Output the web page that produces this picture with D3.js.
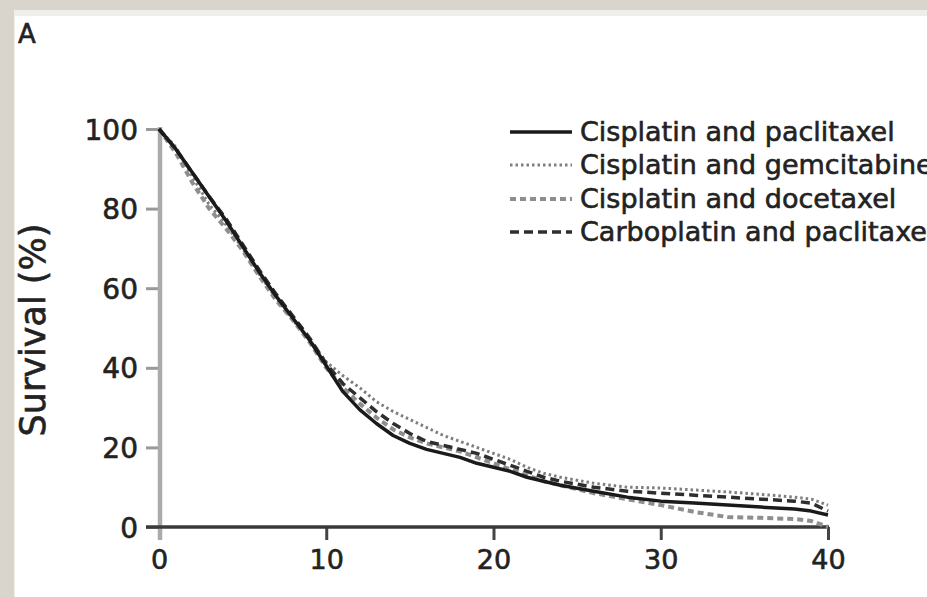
<!DOCTYPE html>
<html>
<head>
<meta charset="utf-8">
<script src="https://cdn.jsdelivr.net/npm/d3@7"></script>
<style>
  html, body { margin: 0; padding: 0; background: #d9d5cd; }
  svg { display: block; }
</style>
</head>
<body>
<svg id="chart" width="927" height="597"></svg>
<script>
// ---- data ----
const months = [0,1,2,3,4,5,6,7,8,9,10,11,12,13,14,15,16,17,18,19,20,21,22,23,24,26,28,30,32,34,36,38,39,40];
const cisplatinPaclitaxel = [100,95,89,83,77,70.5,64,58,52.5,47,40.5,34,29.5,26,23,21,19.5,18.5,17.5,16,15,14,12.5,11.5,10.5,9,7.5,6.5,6,5.5,5,4.5,4,3];
const cisplatinGemcitabine = [100,95.5,88,81,76,70,63.5,57.5,52,47,41.5,38,35,31.5,29,27,25,23,21.5,20,18.5,17,15,13.5,12.5,11,10,9.8,9.3,8.8,8.2,7.5,7,5.5];
const cisplatinDocetaxel = [100,94,86.5,80,75,69.5,63,57,52,46.5,40,35,31,27.5,24.5,22.5,21,20,19,17.5,16,14.5,13,11.5,10.5,8.5,7,5.5,3.8,2.5,2.3,2,1.5,0];
const carboplatinPaclitaxel = [100,95,89,83,77.5,71,64.5,58.5,53,47.5,41,36,32.5,29,26,23.5,21.5,20.5,19.5,18.5,17,15.5,14,12.5,11.5,10,9,8.5,8,7.5,7,6.5,6,4];
const seriesNames = ["Cisplatin and paclitaxel","Cisplatin and gemcitabine","Cisplatin and docetaxel","Carboplatin and paclitaxel"];
const xTicks = [0,10,20,30,40];
const yTicks = [0,20,40,60,80,100];
const yTitle = "Survival (%)";
const panelLabel = "A";

// ---- styles ----
const styles = [
  {stroke:"#1a1a1a", width:3.5, dash:null},
  {stroke:"#7e7e7e", width:3, dash:"2.5,3"},
  {stroke:"#8e8e8e", width:4, dash:"6,4"},
  {stroke:"#2e2e2e", width:3.5, dash:"9,5"}
];
const allSeries = [cisplatinPaclitaxel, cisplatinGemcitabine, cisplatinDocetaxel, carboplatinPaclitaxel];

const svg = d3.select("#chart");
// panel background
svg.append("rect").attr("x",0).attr("y",0).attr("width",927).attr("height",597).attr("fill","#d9d5cd");
svg.append("rect").attr("x",14).attr("y",10).attr("width",913).attr("height",587).attr("fill","#efeeea");
svg.append("rect").attr("x",15).attr("y",16).attr("width",912).attr("height",581).attr("fill","#ffffff");

const x = d3.scaleLinear().domain([0,40]).range([159,828]);
const y = d3.scaleLinear().domain([0,100]).range([527,129]);

const font = "DejaVu Sans, Verdana, sans-serif";
const textStroke = sel => sel.attr("stroke","#222").attr("stroke-width",0.6).attr("paint-order","stroke");

// panel label
svg.append("text").attr("x",18).attr("y",43).attr("font-family",font).attr("font-size",26).attr("fill","#222")
  .call(textStroke).text(panelLabel);

// y axis (light gray)
const yAxisG = svg.append("g").attr("transform","translate(160,0)")
  .call(d3.axisLeft(y).tickValues(yTicks).tickSize(14).tickPadding(8).tickFormat(d3.format("d")));
yAxisG.select(".domain").remove();
yAxisG.selectAll(".tick line").attr("stroke","#999").attr("stroke-width",3);
yAxisG.selectAll(".tick text").attr("font-family",font).attr("font-size",28).attr("fill","#222").attr("dy","0.36em").call(textStroke);
svg.append("line").attr("x1",160).attr("x2",160).attr("y1",127).attr("y2",540).attr("stroke","#ababab").attr("stroke-width",4.5);

// x axis (dark)
const xAxisG = svg.append("g").attr("transform","translate(0,527)")
  .call(d3.axisBottom(x).tickValues(xTicks).tickSize(13).tickPadding(10).tickFormat(d3.format("d")));
xAxisG.select(".domain").remove();
svg.append("line").attr("x1",146).attr("x2",829).attr("y1",527).attr("y2",527).attr("stroke","#3a3a3a").attr("stroke-width",3.5);
xAxisG.selectAll(".tick line").attr("stroke","#444").attr("stroke-width",3);
xAxisG.selectAll(".tick").filter(d => d === 0).select("line").attr("stroke","#aaa");
xAxisG.selectAll(".tick text").attr("font-family",font).attr("font-size",27).attr("fill","#222").call(textStroke);

// y title
svg.append("text").attr("transform","translate(45,330) rotate(-90)").attr("text-anchor","middle")
  .attr("font-family",font).attr("font-size",35).attr("fill","#222").call(textStroke).text(yTitle);

// curves
const line = d3.line().x(d => x(d[0])).y(d => y(d[1])).curve(d3.curveLinear);
const drawOrder = [1,2,3,0];
drawOrder.forEach(i => {
  const pts = months.map((m,k) => [m, allSeries[i][k]]);
  const p = svg.append("path").datum(pts).attr("d",line).attr("fill","none")
    .attr("stroke",styles[i].stroke).attr("stroke-width",styles[i].width).attr("stroke-linejoin","round");
  if (styles[i].dash) p.attr("stroke-dasharray",styles[i].dash);
});

// legend
const legendY = [132,165,199,232];
seriesNames.forEach((name,i) => {
  const l = svg.append("line").attr("x1",510).attr("x2",572).attr("y1",legendY[i]).attr("y2",legendY[i])
    .attr("stroke",styles[i].stroke).attr("stroke-width",styles[i].width);
  if (styles[i].dash) l.attr("stroke-dasharray",styles[i].dash);
  svg.append("text").attr("x",580).attr("y",legendY[i]+8.5).attr("font-family",font).attr("font-size",27)
    .attr("fill","#222").call(textStroke).text(name);
});
</script>
</body>
</html>
